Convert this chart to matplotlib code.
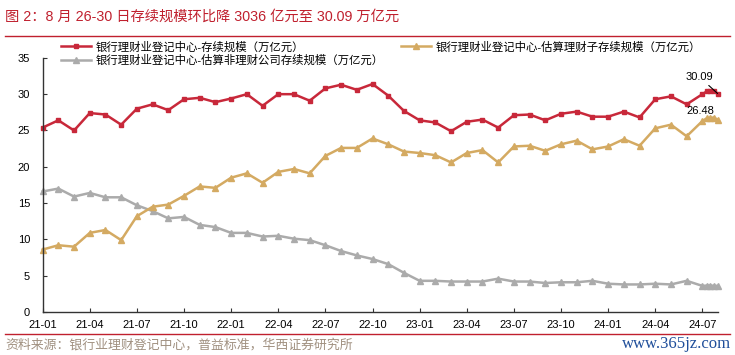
#!/usr/bin/python3

# plot.py
#
# Bank wealth management scale, monthly to 2024-07 plus the weekly August prints.
import matplotlib
matplotlib.use('Agg')
import matplotlib.pyplot as plt
import numpy as np
import pandas as pd

# Categories: monthly points, then the weekly points in August 2024 (day of month)
MONTHS = [p.strftime('%y-%m') for p in pd.period_range('2021-01', '2024-07', freq='M')]
WEEK_DAYS = [9, 16, 23, 30]
TICK_LABELS = ['21-01', '21-04', '21-07', '21-10', '22-01', '22-04', '22-07', '22-10',
               '23-01', '23-04', '23-07', '23-10', '24-01', '24-04', '24-07']

# Total scale (trillion yuan)
TOTAL_MONTHLY = [25.4, 26.4, 25.0, 27.4, 27.2, 25.8, 28.0, 28.6, 27.8, 29.3, 29.5,
                 28.9, 29.4, 30.0, 28.4, 30.0, 30.0, 29.1, 30.8, 31.3, 30.6, 31.4,
                 29.8, 27.7, 26.4, 26.1, 24.9, 26.2, 26.5, 25.4, 27.1, 27.2, 26.4,
                 27.3, 27.6, 26.9, 26.9, 27.6, 26.8, 29.3, 29.7, 28.6, 30.0]
TOTAL_WEEKLY = [30.40, 30.45, 30.39, 30.09]

# Wealth management subsidiaries
SUBSIDIARY_MONTHLY = [8.6, 9.2, 9.0, 10.9, 11.3, 9.9, 13.2, 14.5, 14.8, 16.0, 17.3,
                      17.1, 18.5, 19.1, 17.8, 19.3, 19.7, 19.1, 21.5, 22.6, 22.6, 23.9,
                      23.1, 22.1, 21.9, 21.6, 20.6, 21.9, 22.3, 20.6, 22.8, 22.9, 22.2,
                      23.1, 23.6, 22.4, 22.8, 23.8, 22.9, 25.3, 25.8, 24.2, 26.3]
SUBSIDIARY_WEEKLY = [26.70, 26.75, 26.78, 26.48]

# Non-subsidiary institutions
OTHER_MONTHLY = [16.6, 17.0, 15.9, 16.4, 15.8, 15.8, 14.7, 13.9, 12.9, 13.1, 12.0,
                 11.7, 10.9, 10.9, 10.4, 10.5, 10.1, 9.9, 9.2, 8.4, 7.8, 7.3,
                 6.6, 5.4, 4.3, 4.3, 4.2, 4.2, 4.2, 4.6, 4.2, 4.2, 4.0,
                 4.1, 4.1, 4.3, 3.9, 3.8, 3.8, 3.9, 3.8, 4.3, 3.6]
OTHER_WEEKLY = [3.65, 3.65, 3.62, 3.61]

LABELS = ['银行理财业登记中心-存续规模（万亿元）',
          '银行理财业登记中心-估算非理财公司存续规模（万亿元）',
          '银行理财业登记中心-估算理财子存续规模（万亿元）']

RED, TAN, GREY = '#C8283A', '#D4AA62', '#ABABAB'
TITLE_RED = '#C0202E'


def positions():
  # Months sit on integer slots, August weeks fall inside the last month slot
  last = len(MONTHS) - 1
  return np.append(np.arange(len(MONTHS)), last + np.array(WEEK_DAYS) / 31.0)


def main():
  plt.rcParams['font.family'] = ['Liberation Sans', 'Noto Sans CJK SC']
  figure = plt.figure(figsize=(7.35, 3.55), dpi=100)
  axes = figure.add_axes([0.058, 0.121, 0.919, 0.716])

  # Draw the three series
  x = positions()
  lines = {}
  lines['total'], = axes.plot(x, TOTAL_MONTHLY + TOTAL_WEEKLY, color=RED, lw=1.8,
                              marker='s', markersize=3.2, clip_on=False)
  lines['other'], = axes.plot(x, OTHER_MONTHLY + OTHER_WEEKLY, color=GREY, lw=1.8,
                              marker='^', markersize=3.8, clip_on=False)
  lines['sub'], = axes.plot(x, SUBSIDIARY_MONTHLY + SUBSIDIARY_WEEKLY, color=TAN, lw=1.8,
                            marker='^', markersize=3.8, clip_on=False)

  # Latest values
  axes.annotate('{:.2f}'.format(TOTAL_WEEKLY[-1]), xy=(x[-1], TOTAL_WEEKLY[-1]),
                xytext=(41.8, 32.4), ha='center', va='center', fontsize=8,
                arrowprops=dict(arrowstyle='-', color='black', lw=0.8, shrinkA=1, shrinkB=0))
  axes.text(41.9, 27.65, '{:.2f}'.format(SUBSIDIARY_WEEKLY[-1]), ha='center',
            va='center', fontsize=8)

  # Format the axes
  axes.set_xlim(0, 43)
  axes.set_ylim(0, 35)
  axes.set_xticks(np.arange(0, len(MONTHS), 3))
  axes.set_xticklabels(TICK_LABELS)
  axes.set_yticks(np.arange(0, 36, 5))
  axes.tick_params(axis='x', direction='in', length=3, pad=6, labelsize=8, color='#333333')
  axes.tick_params(axis='y', direction='in', length=3, pad=9, labelsize=8, color='#333333')
  for side in ['top', 'right']:
    axes.spines[side].set_visible(False)
  for side in ['left', 'bottom']:
    axes.spines[side].set_color('#333333')
    axes.spines[side].set_linewidth(1.0)

  # Legend across the top
  figure.legend([lines['total'], lines['other'], lines['sub']], LABELS, ncol=2,
                loc='upper left', bbox_to_anchor=(0.083, 0.884), frameon=False,
                fontsize=8.2, handlelength=2.6, handletextpad=0.45, columnspacing=1.5,
                labelspacing=0.22, borderpad=0, borderaxespad=0)

  # Title, rules and source
  figure.text(0.007, 0.952, '图 2：8 月 26-30 日存续规模环比降 3036 亿元至 30.09 万亿元',
              color=TITLE_RED, fontsize=10.3, va='center', ha='left')
  figure.add_artist(plt.Line2D([0.007, 0.993], [0.899, 0.899], color=TITLE_RED, lw=1.0))
  figure.add_artist(plt.Line2D([0.007, 0.993], [0.060, 0.060], color=TITLE_RED, lw=1.0))
  figure.text(0.007, 0.027, '资料来源：银行业理财登记中心，普益标准，华西证券研究所',
              color='#A09080', fontsize=9.3, va='center', ha='left')
  figure.text(0.995, 0.030, 'www.365jz.com', color='#1F4E9A', fontsize=12,
              family='Liberation Serif', va='center', ha='right')

  figure.savefig('out.png', dpi=100)
  plt.close()


if __name__ == '__main__':
  main()
